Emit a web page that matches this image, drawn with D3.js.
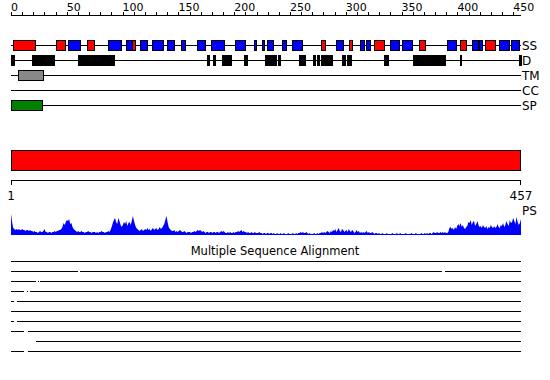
<!DOCTYPE html>
<html>
<head>
<meta charset="utf-8">
<script src="https://cdn.jsdelivr.net/npm/d3@7"></script>
<style>
  body { margin: 0; background: #fff; }
  svg { display: block; }
  text { font-family: "DejaVu Sans", sans-serif; fill: #000; }
</style>
</head>
<body>
<svg width="550" height="380"></svg>
<script>
// sequence length and tick labels
const seqLen = 457;
const topTicks = [0, 50, 100, 150, 200, 250, 300, 350, 400, 450];
const trackNames = ["SS", "D", "TM", "CC", "SP"];

// secondary structure (residue ranges)
const ssHelix = [[2,22],[40,48],[68,74],[108,111],[278,282],[303,306],[325,334],[366,371],[402,407],[425,434]];
const ssStrand = [[51,62],[87,99],[103,108],[116,122],[126,136],[140,146],[152,156],[167,174],[179,191],[201,210],
  [218,220],[225,227],[229,234],[243,247],[252,261],[291,297],[313,317],[318,322],[340,348],[350,359],[391,399],
  [413,418],[419,422],[437,446],[448,455]];
// disorder
const disorder = [[0,3],[19,39],[60,92],[176,178],[181,183],[189,197],[209,212],[228,230],[230,237],[239,241],
  [258,263],[271,273],[274,276],[278,288],[297,300],[301,305],[334,338],[360,378],[379,389],[402,403],[455,457]];
const transmem = [[6,28]];
const coiled = [];
const signalPep = [[0,28]];

// domain bar
const domains = [[0,457]];

// PS profile, one value per residue
const psValues = [
  21,13,7,6,5,6,5,6,5,5, 6,5,5,4,5,5,4,5,4,4, 3,4,3,3,2,3,4,3,3,4, 6,3,3,2,3,3,2,3,3,4,
  3,4,4,5,5,6,8,12,10,13, 15,14,16,11,12,8,6,5,4,3, 4,3,3,4,3,3,2,3,3,4, 3,3,2,3,3,3,2,3,2,3,
  3,4,3,3,2,3,3,4,3,5, 8,12,15,17,13,11,17,14,10,8, 10,13,11,14,9,12,13,10,14,19, 14,10,7,6,5,4,5,6,4,5,
  6,5,7,5,6,4,6,7,5,6, 7,5,6,8,6,7,9,11,15,19, 13,8,6,5,4,4,5,3,4,3, 4,5,4,3,3,4,3,2,3,3,
  3,2,3,3,4,3,4,5,4,5, 4,3,4,3,2,3,3,2,3,3, 2,3,3,2,3,3,2,3,4,3, 4,3,2,2,3,2,3,2,2,3,
  2,3,3,4,3,4,5,3,4,3, 3,2,3,2,2,3,2,2,3,2, 2,2,3,2,2,1,2,2,1,2, 2,1,2,2,1,2,1,1,2,1,
  1,2,1,1,2,1,1,1,2,1, 1,1,2,1,1,2,1,2,2,3, 2,3,2,2,3,2,1,2,1,1, 1,2,1,1,2,1,2,2,3,2,
  3,2,3,4,3,2,4,3,5,4, 6,3,5,7,4,3,6,5,3,4, 5,3,6,4,3,5,4,2,3,5, 3,4,2,3,2,3,2,3,4,2,
  3,2,2,3,2,1,2,2,1,2, 1,1,2,1,1,1,2,1,1,1, 1,2,1,1,1,2,1,1,2,1, 1,1,1,2,1,1,1,1,2,1,
  1,1,2,1,1,1,1,2,1,1, 2,1,2,1,2,2,1,2,3,2, 2,3,2,2,3,2,3,2,3,2, 2,3,7,8,6,7,5,8,6,9,
  11,9,12,8,10,7,6,8,9,13, 12,15,10,13,14,9,11,14,10,8, 9,7,10,8,7,9,6,8,7,10, 8,7,9,7,8,11,8,7,10,9,
  12,8,10,14,11,9,15,12,13,17, 14,11,18,13,10,12,16
];

// alignment rows: aligned segments per homologue
const msaRows = [
  [[0,457]],
  [[0,60],[62,386],[389,457]],
  [[0,22],[24,25],[26,457]],
  [[0,12],[14,15],[17,457]],
  [[0,3],[5,457]],
  [[0,457]],
  [[0,3],[5,457]],
  [[0,12],[15,457]],
  [[22,457]],
  [[0,12],[15,457]]
];

const svg = d3.select("svg");
const x = d3.scaleLinear().domain([0, seqLen]).range([11, 521]);

// top ruler
const ruler = svg.append("g");
ruler.append("line")
  .attr("x1", x(0)).attr("x2", x(seqLen))
  .attr("y1", 15.5).attr("y2", 15.5)
  .attr("stroke", "#000");
ruler.selectAll(".tk")
  .data(d3.range(0, 451, 10))
  .enter().append("line")
  .attr("x1", d => Math.round(x(d)) + 0.5).attr("x2", d => Math.round(x(d)) + 0.5)
  .attr("y1", 12).attr("y2", 15.5)
  .attr("stroke", "#000");
ruler.selectAll("text")
  .data(topTicks)
  .enter().append("text")
  .attr("x", d => x(d)).attr("y", 11)
  .attr("font-size", 11)
  .text(d => d);

// feature tracks
const trackY = [45.5, 60.5, 75.5, 90.5, 105.5];
const tracks = [
  [{ data: ssHelix, fill: "#ff0000" }, { data: ssStrand, fill: "#0000ff" }],
  [{ data: disorder, fill: "#000000" }],
  [{ data: transmem, fill: "#888888" }],
  [{ data: coiled, fill: "#000000" }],
  [{ data: signalPep, fill: "#007f00" }]
];

tracks.forEach(function (layers, i) {
  const g = svg.append("g").attr("shape-rendering", "crispEdges");
  g.append("line")
    .attr("x1", x(0)).attr("x2", x(seqLen))
    .attr("y1", trackY[i]).attr("y2", trackY[i])
    .attr("stroke", "#000");
  layers.forEach(function (layer) {
    g.selectAll(null)
      .data(layer.data)
      .enter().append("rect")
      .attr("x", d => Math.round(x(d[0])) + 0.5)
      .attr("y", trackY[i] - 5)
      .attr("width", d => Math.max(1, Math.round(x(d[1]) - x(d[0]))))
      .attr("height", 10)
      .attr("fill", layer.fill)
      .attr("stroke", "#000");
  });
  svg.append("text")
    .attr("x", 522).attr("y", trackY[i])
    .attr("dy", "0.36em")
    .attr("font-size", 12)
    .text(trackNames[i]);
});

// domain bar
svg.append("g").attr("shape-rendering", "crispEdges")
  .selectAll("rect")
  .data(domains)
  .enter().append("rect")
  .attr("x", d => x(d[0]) + 0.5)
  .attr("y", 150.5)
  .attr("width", d => x(d[1]) - x(d[0]) - 1)
  .attr("height", 20)
  .attr("fill", "#ff0000")
  .attr("stroke", "#000");

// bottom ruler
const br = svg.append("g").attr("shape-rendering", "crispEdges");
br.append("line")
  .attr("x1", x(0)).attr("x2", x(seqLen))
  .attr("y1", 180.5).attr("y2", 180.5)
  .attr("stroke", "#000");
br.selectAll(".end")
  .data([0, seqLen])
  .enter().append("line")
  .attr("x1", d => d === 0 ? x(d) + 0.5 : x(d) - 0.5)
  .attr("x2", d => d === 0 ? x(d) + 0.5 : x(d) - 0.5)
  .attr("y1", 180.5).attr("y2", 185)
  .attr("stroke", "#000");
svg.append("text").attr("x", x(0)).attr("y", 200)
  .attr("text-anchor", "middle").attr("font-size", 12).text("1");
svg.append("text").attr("x", x(seqLen)).attr("y", 200)
  .attr("text-anchor", "middle").attr("font-size", 12).text(seqLen);
svg.append("text").attr("x", 522).attr("y", 215)
  .attr("font-size", 12).text("PS");

// PS profile
const px = d3.scaleLinear().domain([0, psValues.length - 1]).range([x(0), x(seqLen)]);
const py = d3.scaleLinear().domain([0, 25]).range([235, 210]);
svg.append("path")
  .datum(psValues)
  .attr("fill", "#0000ff")
  .attr("d", d3.area()
    .x((d, i) => px(i))
    .y0(py(0))
    .y1(d => py(d)));

// multiple sequence alignment
svg.append("text")
  .attr("x", 275).attr("y", 255)
  .attr("text-anchor", "middle")
  .attr("font-size", 11.5)
  .text("Multiple Sequence Alignment");

const msa = svg.append("g").attr("shape-rendering", "crispEdges");
msaRows.forEach(function (segs, i) {
  msa.selectAll(null)
    .data(segs)
    .enter().append("line")
    .attr("x1", d => x(d[0])).attr("x2", d => x(d[1]))
    .attr("y1", 261.5 + i * 10).attr("y2", 261.5 + i * 10)
    .attr("stroke", "#000");
});
</script>
</body>
</html>
